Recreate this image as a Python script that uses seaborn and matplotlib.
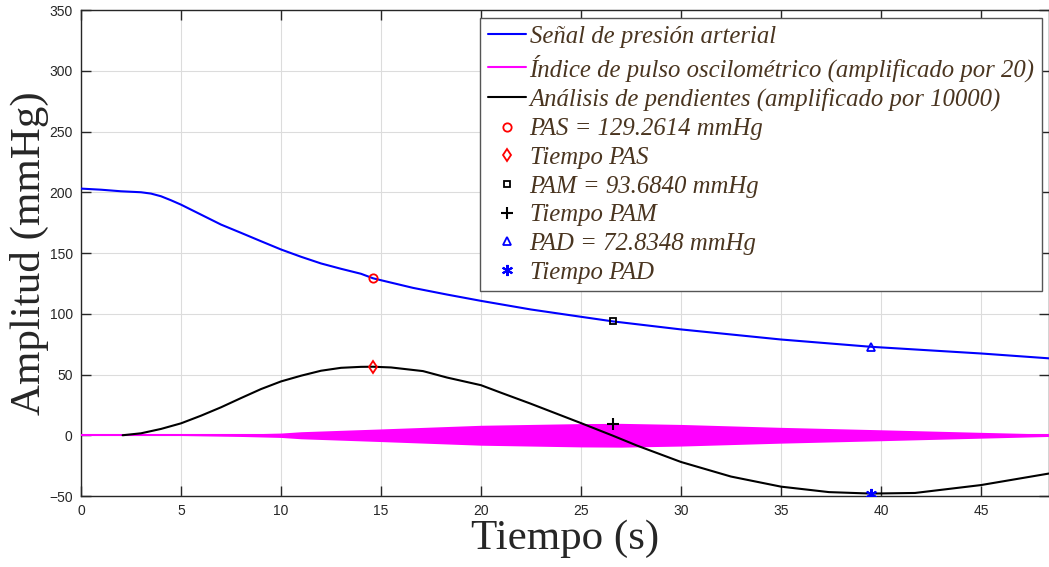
import numpy as np
import pandas as pd
import matplotlib
matplotlib.use("Agg")
import matplotlib.pyplot as plt
import seaborn as sns
from matplotlib.lines import Line2D

# blood pressure signal
t_pres = [0, 1, 2, 3, 3.5, 4, 4.5, 5, 6, 7, 8, 9, 10, 11, 12, 13, 14, 14.6, 15,
          16.6, 18.3, 20, 22.5, 25, 26.6, 30, 35, 39.5, 45, 48.4]
pres = [203, 202.1, 200.8, 200, 198.9, 196.7, 193.4, 189.8, 181.6, 173.4, 166.6,
        159.7, 152.9, 146.9, 141.4, 137, 132.9, 129.2, 127.6, 121.3, 115.8, 110.6,
        103.5, 97.5, 93.7, 87.1, 78.8, 72.8, 67.3, 63.3]

# slope analysis curve (x10000)
t_slope = [2.08, 3, 4, 5, 6, 7, 8, 9, 10, 11, 12, 13, 14, 14.6, 15.5, 17.1, 18.3,
           20, 21, 22.45, 25, 26.6, 27.8, 30, 32.5, 35, 37.4, 39.5, 41.7, 45, 48.4]
slope = [0, 1.6, 5.2, 9.8, 16.1, 23, 30.6, 38, 44.3, 49, 53.1, 55.5, 56.3, 56.4,
         55.8, 52.8, 47.5, 41.2, 35, 26.2, 10, -0.4, -8.5, -22, -34, -42.3, -46.8,
         -48, -47.5, -41, -31.5]

# oscillometric pulse index envelope (x20)
t_osc = [0, 2, 5, 8, 10, 11, 15, 20, 25, 27, 30, 35, 40, 45, 48.4]
osc_env = [0, 0, 0.2, 1, 1.8, 2.9, 5.2, 8.2, 9.6, 9.8, 8.9, 6.5, 4.5, 2.4, 1.0]

pas_t, pas = 14.6, 129.2614
pas_slope = 56.4
pam_t, pam = 26.6, 93.6840
pam_slope = 9.5
pad_t, pad = 39.5, 72.8348
pad_slope = -48.0

sns.set_style("ticks")
plt.rcParams["font.family"] = ["Liberation Sans", "DejaVu Sans"]

fig = plt.figure(figsize=(10.49, 5.67), dpi=100)
ax = fig.add_axes([81 / 1049, 71 / 567, 1 - 81 / 1049, 486 / 567])

pres_df = pd.DataFrame({"t": t_pres, "v": pres})
slope_df = pd.DataFrame({"t": t_slope, "v": slope})
osc_df = pd.DataFrame({"t": t_osc, "env": osc_env})

sns.lineplot(data=pres_df, x="t", y="v", ax=ax, color="#0000ff", lw=1.5, zorder=3)
ax.fill_between(osc_df["t"], -osc_df["env"], osc_df["env"], color="#ff00ff",
                lw=0, zorder=3)
ax.plot(osc_df["t"], np.zeros(len(osc_df)), color="#ff00ff", lw=1.5, zorder=3)
sns.lineplot(data=slope_df, x="t", y="v", ax=ax, color="black", lw=1.5, zorder=4)

mk = dict(ls="none", ms=6, mew=1.3, zorder=5)
ax.plot(pas_t, pas, marker="o", mfc="none", mec="red", **mk)
ax.plot(pas_t, pas_slope, marker="d", mfc="none", mec="red", **mk)
ax.plot(pam_t, pam, marker="s", mfc="none", mec="black", ms=5, mew=1.3, ls="none", zorder=5)
ax.plot(pam_t, pam_slope, marker="+", color="black", ms=8, mew=1.5, ls="none", zorder=5)
ax.plot(pad_t, pad, marker="^", mfc="none", mec="blue", **mk)
ax.plot(pad_t, pad_slope, marker=(6, 2, 0), color="blue", ms=8, mew=1.5, ls="none", zorder=5)

ax.set_xlim(0, 48.4)
ax.set_ylim(-50, 350)
ax.set_xticks(np.arange(0, 50, 5))
ax.set_yticks(np.arange(-50, 351, 50))
ax.grid(True, color="#dcdcdc", lw=0.8)
ax.set_axisbelow(True)
for s in ax.spines.values():
    s.set_color("#262626")
    s.set_linewidth(1.0)
ax.tick_params(direction="in", length=7, width=1.0, colors="#262626",
               labelsize=10, top=True, right=True, pad=6)

serif = ["Liberation Serif", "DejaVu Serif"]
ax.set_xlabel("Tiempo (s)", fontsize=31, family=serif, color="#262626", labelpad=1)
ax.set_ylabel("Amplitud (mmHg)", fontsize=31, family=serif, color="#262626")
ax.yaxis.set_label_coords(-0.033, 0.5)

handles = [
    Line2D([], [], color="#0000ff", lw=1.5),
    Line2D([], [], color="#ff00ff", lw=1.5),
    Line2D([], [], color="black", lw=1.5),
    Line2D([], [], marker="o", mfc="none", mec="red", ls="none", ms=6, mew=1.3),
    Line2D([], [], marker="d", mfc="none", mec="red", ls="none", ms=6, mew=1.3),
    Line2D([], [], marker="s", mfc="none", mec="black", ls="none", ms=5, mew=1.3),
    Line2D([], [], marker="+", color="black", ls="none", ms=8, mew=1.5),
    Line2D([], [], marker="^", mfc="none", mec="blue", ls="none", ms=6, mew=1.3),
    Line2D([], [], marker=(6, 2, 0), color="blue", ls="none", ms=8, mew=1.5),
]
labels = [
    "Señal de presión arterial",
    "Índice de pulso oscilométrico (amplificado por 20)",
    "Análisis de pendientes (amplificado por 10000)",
    "PAS = 129.2614 mmHg",
    "Tiempo PAS",
    "PAM = 93.6840 mmHg",
    "Tiempo PAM",
    "PAD = 72.8348 mmHg",
    "Tiempo PAD",
]
leg = ax.legend(handles, labels, loc="upper right",
                bbox_to_anchor=(1042 / 1049, 1 - 18 / 567),
                bbox_transform=fig.transFigure,
                prop={"family": serif, "style": "italic", "size": 17.8},
                labelcolor="#4a3520", fancybox=False, framealpha=1,
                edgecolor="#555555", handlelength=1.55, handletextpad=0.15,
                labelspacing=0.26, borderpad=0.3, borderaxespad=0)
leg.get_frame().set_linewidth(1.0)

fig.savefig("out.png", dpi=100)
